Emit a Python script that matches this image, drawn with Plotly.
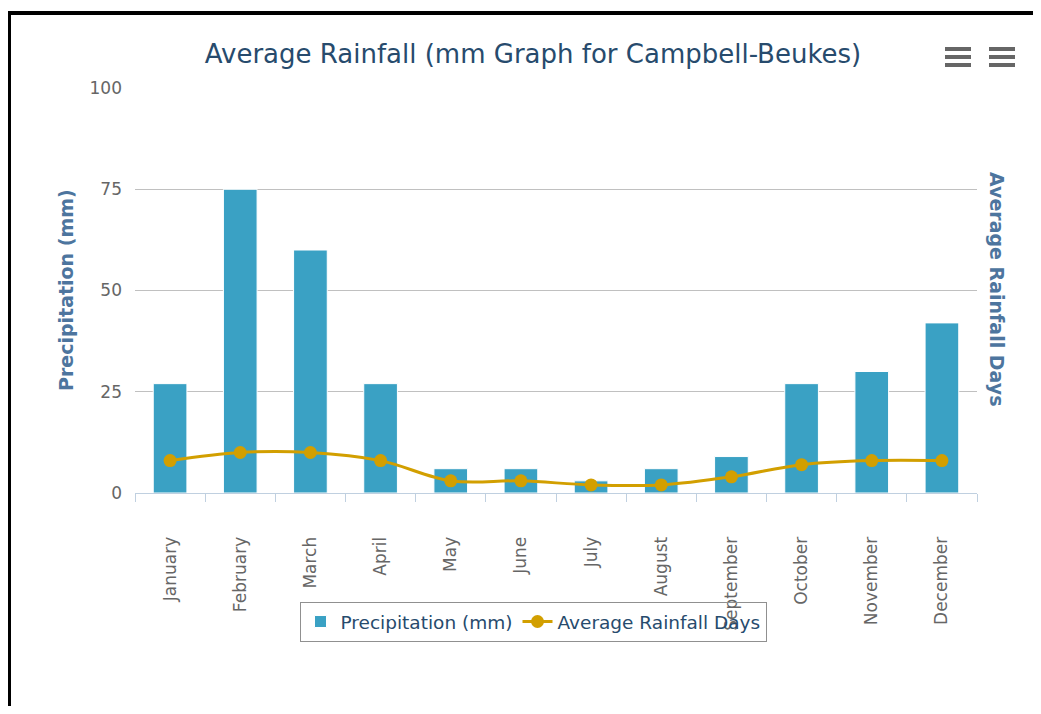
import plotly.graph_objects as go

months = ["January", "February", "March", "April", "May", "June", "July",
          "August", "September", "October", "November", "December"]
precip_mm = [27, 75, 60, 27, 6, 6, 3, 6, 9, 27, 30, 42]
rain_days = [8, 10, 10, 8, 3, 3, 2, 2, 4, 7, 8, 8]
y_ticks = [0, 25, 50, 75, 100]

W, H = 1025, 698
L, R, T, B = 127, 56, 80, 213
PW, PH = W - L - R, H - T - B
PB = H - B

def px(fx):
    return (fx - L) / PW

def py(fy):
    return (PB - fy) / PH

FONT = "DejaVu Sans, Verdana, sans-serif"

fig = go.Figure()
fig.add_trace(go.Bar(
    x=months, y=precip_mm, name="Precipitation (mm)",
    marker=dict(color="#3aa1c4", line=dict(color="#ffffff", width=1)),
    width=0.48,
))
fig.add_trace(go.Scatter(
    x=months, y=rain_days, name="Average Rainfall Days", yaxis="y2",
    mode="lines+markers", line=dict(color="#d29f00", width=3, shape="spline"),
    marker=dict(color="#d29f00", size=13),
))

shapes = []
# black frame (top and left)
shapes.append(dict(type="line", xref="paper", yref="paper",
                   x0=px(-2), x1=px(W + 2), y0=py(5), y1=py(5),
                   line=dict(color="black", width=4)))
shapes.append(dict(type="line", xref="paper", yref="paper",
                   x0=px(1), x1=px(1), y0=py(3), y1=py(H + 2),
                   line=dict(color="black", width=4)))
# hamburger menu icons
for x0 in (936, 980):
    for yy in (41, 49, 57):
        shapes.append(dict(type="line", xref="paper", yref="paper",
                           x0=px(x0 + 1), x1=px(x0 + 27), y0=py(yy), y1=py(yy),
                           line=dict(color="#666666", width=4)))

annotations = [
    dict(text="<b>Precipitation (mm)</b>", xref="paper", yref="paper",
         x=px(58), y=py(282), textangle=-90, showarrow=False,
         xanchor="center", yanchor="middle",
         font=dict(family=FONT, size=19, color="#4d759e")),
    dict(text="<b>Average Rainfall Days</b>", xref="paper", yref="paper",
         x=px(989), y=py(281), textangle=90, showarrow=False,
         xanchor="center", yanchor="middle",
         font=dict(family=FONT, size=19, color="#4d759e")),
]

fig.update_layout(
    width=W, height=H,
    margin=dict(l=L, r=R, t=T, b=B, autoexpand=False),
    paper_bgcolor="white", plot_bgcolor="white",
    font=dict(family=FONT, color="#666666"),
    title=dict(text="Average Rainfall (mm Graph for Campbell-Beukes)",
               x=525 / W, xanchor="center", y=1 - 46 / H, yanchor="middle",
               font=dict(family=FONT, size=26, color="#274b6d")),
    bargap=0.52,
    showlegend=True,
    legend=dict(orientation="h", x=px(525), xanchor="center",
                y=py(594), yanchor="top",
                bordercolor="#909090", borderwidth=1,
                bgcolor="rgba(0,0,0,0)",
                font=dict(family=FONT, size=18.5, color="#274b6d")),
    xaxis=dict(range=[-0.5, 11.5], showline=True, linecolor="#c0d0e0",
               linewidth=1, ticks="outside", tickson="boundaries", ticklen=8,
               tickcolor="#c0d0e0", tickangle=-90, showgrid=False,
               ticklabelstandoff=36,
               tickfont=dict(family=FONT, size=17, color="#666666")),
    yaxis=dict(range=[0, 100], tickvals=y_ticks, gridcolor="#c0c0c0",
               zeroline=False, showline=False, ticks="",
               ticklabelstandoff=12,
               tickfont=dict(family=FONT, size=17, color="#666666")),
    yaxis2=dict(range=[0, 100], overlaying="y", side="right",
                showgrid=False, zeroline=False, showticklabels=False,
                showline=False),
    shapes=shapes,
    annotations=annotations,
)

fig.write_html("out.html")
